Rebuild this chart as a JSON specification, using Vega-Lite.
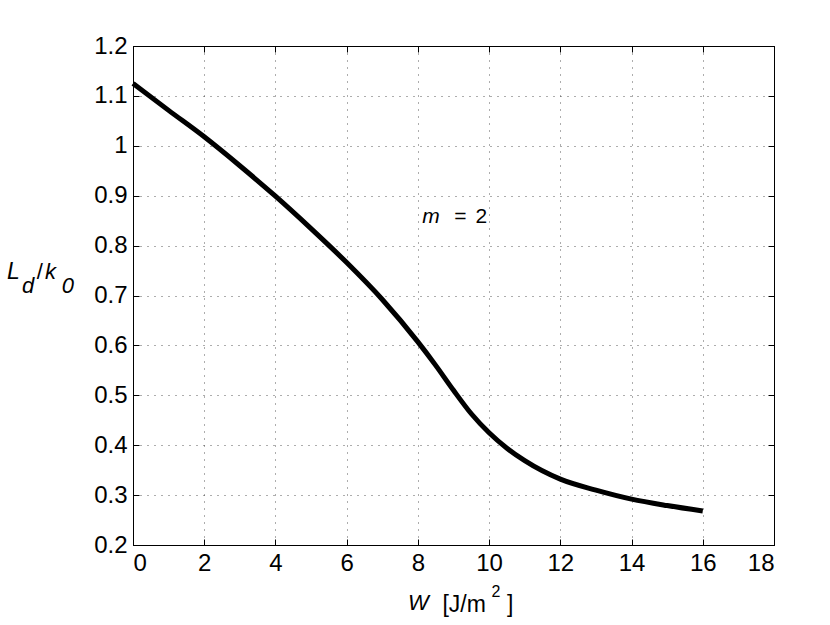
{
  "$schema": "https://vega.github.io/schema/vega-lite/v6.json",
  "width": 641,
  "height": 499,
  "autosize": {"type": "none"},
  "padding": {"left": 133, "top": 46, "right": 56, "bottom": 80},
  "background": "white",
  "config": {
    "view": {"stroke": "#000", "strokeWidth": 1},
    "font": "Liberation Sans",
    "axis": {
      "labelFont": "Liberation Sans",
      "labelFontSize": 24,
      "labelColor": "#000",
      "domainColor": "#000",
      "tickColor": "#000",
      "tickSize": -6,
      "gridColor": "#333",
      "gridDash": [1, 6],
      "gridOpacity": 0.8,
      "title": null
    },
    "text": {"font": "Liberation Sans", "color": "#000", "align": "left", "baseline": "alphabetic"}
  },
  "data": {
    "values": [
      {"W": 0, "L": 1.125},
      {"W": 1, "L": 1.071},
      {"W": 2, "L": 1.018},
      {"W": 3, "L": 0.96},
      {"W": 4, "L": 0.899},
      {"W": 5, "L": 0.834},
      {"W": 6, "L": 0.766},
      {"W": 7, "L": 0.692},
      {"W": 8, "L": 0.607},
      {"W": 8.5, "L": 0.56},
      {"W": 9, "L": 0.51},
      {"W": 9.5, "L": 0.463},
      {"W": 10, "L": 0.425},
      {"W": 10.5, "L": 0.394},
      {"W": 11, "L": 0.369},
      {"W": 12, "L": 0.332},
      {"W": 13, "L": 0.31},
      {"W": 14, "L": 0.292},
      {"W": 15, "L": 0.279},
      {"W": 16, "L": 0.268}
    ]
  },
  "layer": [
    {
      "mark": {"type": "line", "color": "#000", "strokeWidth": 5, "interpolate": "monotone"},
      "encoding": {
        "x": {
          "field": "W", "type": "quantitative",
          "scale": {"domain": [0, 18], "nice": false},
          "axis": {"values": [0, 2, 4, 6, 8, 10, 12, 14, 16, 18], "labelPadding": 12, "grid": true}
        },
        "y": {
          "field": "L", "type": "quantitative",
          "scale": {"domain": [0.2, 1.2], "nice": false, "zero": false},
          "axis": {"values": [0.2, 0.3, 0.4, 0.5, 0.6, 0.7, 0.8, 0.9, 1, 1.1, 1.2], "format": "~g", "labelPadding": 12, "grid": true}
        }
      }
    },
    {
      "data": {"values": [{}]},
      "mark": {"type": "point", "opacity": 0},
      "encoding": {
        "x": {"datum": 0, "type": "quantitative", "scale": {"domain": [0, 18], "nice": false},
          "axis": {"orient": "top", "labels": false, "grid": false, "values": [0, 2, 4, 6, 8, 10, 12, 14, 16, 18]}},
        "y": {"datum": 0.2, "type": "quantitative", "scale": {"domain": [0.2, 1.2], "nice": false, "zero": false},
          "axis": {"orient": "right", "labels": false, "grid": false, "values": [0.2, 0.3, 0.4, 0.5, 0.6, 0.7, 0.8, 0.9, 1, 1.1, 1.2]}}
      }
    },
    {
      "data": {"values": [{}]},
      "mark": {"type": "text", "text": "m", "fontSize": 21, "fontStyle": "italic"},
      "encoding": {
        "x": {"datum": 8.12, "type": "quantitative", "axis": null},
        "y": {"datum": 0.845, "type": "quantitative", "axis": null}
      }
    },
    {
      "data": {"values": [{}]},
      "mark": {"type": "text", "text": "=", "fontSize": 21},
      "encoding": {
        "x": {"datum": 9.02, "type": "quantitative", "axis": null},
        "y": {"datum": 0.845, "type": "quantitative", "axis": null}
      }
    },
    {
      "data": {"values": [{}]},
      "mark": {"type": "text", "text": "2", "fontSize": 21},
      "encoding": {
        "x": {"datum": 9.62, "type": "quantitative", "axis": null},
        "y": {"datum": 0.845, "type": "quantitative", "axis": null}
      }
    },
    {
      "data": {"values": [{}]},
      "mark": {"type": "text", "text": "W", "fontSize": 22, "fontStyle": "italic"},
      "encoding": {
        "x": {"datum": 7.72, "type": "quantitative", "axis": null},
        "y": {"datum": 0.0697, "type": "quantitative", "axis": null}
      }
    },
    {
      "data": {"values": [{}]},
      "mark": {"type": "text", "text": "[J/m", "fontSize": 23},
      "encoding": {
        "x": {"datum": 8.69, "type": "quantitative", "axis": null},
        "y": {"datum": 0.066, "type": "quantitative", "axis": null}
      }
    },
    {
      "data": {"values": [{}]},
      "mark": {"type": "text", "text": "2", "fontSize": 16},
      "encoding": {
        "x": {"datum": 10.07, "type": "quantitative", "axis": null},
        "y": {"datum": 0.096, "type": "quantitative", "axis": null}
      }
    },
    {
      "data": {"values": [{}]},
      "mark": {"type": "text", "text": "]", "fontSize": 23},
      "encoding": {
        "x": {"datum": 10.5, "type": "quantitative", "axis": null},
        "y": {"datum": 0.066, "type": "quantitative", "axis": null}
      }
    },
    {
      "data": {"values": [{}]},
      "mark": {"type": "text", "text": "L", "fontSize": 23, "fontStyle": "italic"},
      "encoding": {
        "x": {"datum": -3.54, "type": "quantitative", "axis": null},
        "y": {"datum": 0.7325, "type": "quantitative", "axis": null}
      }
    },
    {
      "data": {"values": [{}]},
      "mark": {"type": "text", "text": "d", "fontSize": 22, "fontStyle": "italic"},
      "encoding": {
        "x": {"datum": -3.12, "type": "quantitative", "axis": null},
        "y": {"datum": 0.7044, "type": "quantitative", "axis": null}
      }
    },
    {
      "data": {"values": [{}]},
      "mark": {"type": "text", "text": "/", "fontSize": 22},
      "encoding": {
        "x": {"datum": -2.7, "type": "quantitative", "axis": null},
        "y": {"datum": 0.7325, "type": "quantitative", "axis": null}
      }
    },
    {
      "data": {"values": [{}]},
      "mark": {"type": "text", "text": "k", "fontSize": 22, "fontStyle": "italic"},
      "encoding": {
        "x": {"datum": -2.47, "type": "quantitative", "axis": null},
        "y": {"datum": 0.7325, "type": "quantitative", "axis": null}
      }
    },
    {
      "data": {"values": [{}]},
      "mark": {"type": "text", "text": "0", "fontSize": 22, "fontStyle": "italic"},
      "encoding": {
        "x": {"datum": -2.0, "type": "quantitative", "axis": null},
        "y": {"datum": 0.7044, "type": "quantitative", "axis": null}
      }
    }
  ],
  "resolve": {"axis": {"x": "independent", "y": "independent"}}
}
